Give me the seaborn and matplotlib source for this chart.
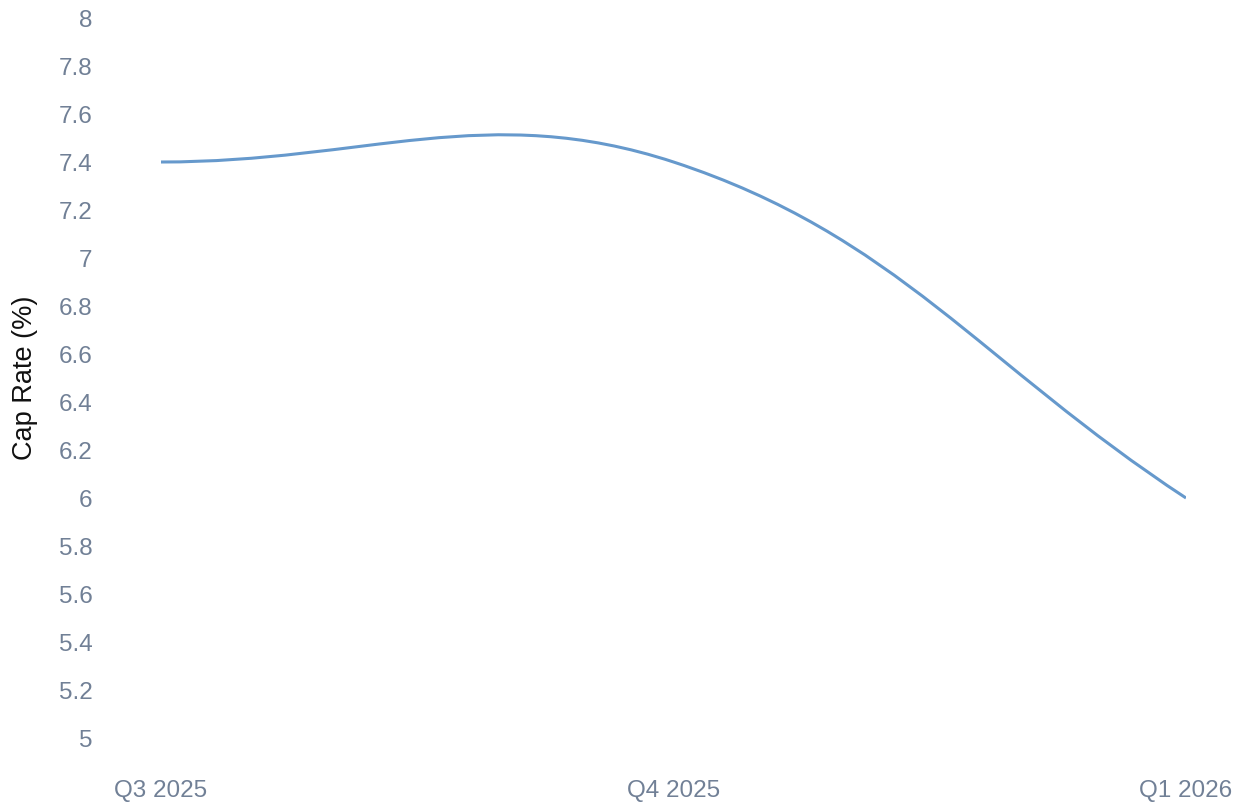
import numpy as np
import pandas as pd
import matplotlib
matplotlib.use("Agg")
import matplotlib.pyplot as plt
import seaborn as sns
from matplotlib.path import Path
from matplotlib.patches import PathPatch
from matplotlib.transforms import ScaledTranslation

# Data
quarters = ["Q3 2025", "Q4 2025", "Q1 2026"]
cap_rate = [7.4, 7.4, 6.0]
y_ticks = [5.0, 5.2, 5.4, 5.6, 5.8, 6.0, 6.2, 6.4, 6.6, 6.8, 7.0, 7.2, 7.4, 7.6, 7.8, 8.0]
y_label = "Cap Rate (%)"

LINE_COLOR = "#6699cc"
TICK_COLOR = "#718096"
TENSION = 0.4

sns.set_theme(style="white")
plt.rcParams["font.family"] = ["Liberation Sans", "DejaVu Sans"]

W, H = 1244, 806
fig = plt.figure(figsize=(W / 100, H / 100), dpi=100)
ax = fig.add_axes([161 / W, (H - 738) / H, (1186 - 161) / W, (738 - 18) / H])

df = pd.DataFrame({"pos": np.arange(len(quarters)), "quarter": quarters, "cap_rate": cap_rate})
# points are drawn with no visible marker; the smoothed line is added below
sns.lineplot(data=df, x="pos", y="cap_rate", ax=ax, linewidth=0, color=LINE_COLOR)

ax.set_xlim(0, len(quarters) - 1)
ax.set_ylim(5, 8)


def spline_path(xs, ys, tension):
    """Cardinal-style spline (control points computed in screen space)."""
    pts = ax.transData.transform(np.column_stack([xs, ys]))
    n = len(pts)
    cp_prev = np.zeros_like(pts)
    cp_next = np.zeros_like(pts)
    for i in range(n):
        prev = pts[i - 1] if i > 0 else pts[i]
        cur = pts[i]
        nxt = pts[i + 1] if i < n - 1 else pts[i]
        d01 = np.hypot(*(cur - prev))
        d12 = np.hypot(*(nxt - cur))
        tot = d01 + d12
        s01 = d01 / tot if tot else 0.0
        s12 = d12 / tot if tot else 0.0
        cp_prev[i] = cur - tension * s01 * (nxt - prev)
        cp_next[i] = cur + tension * s12 * (nxt - prev)
    verts = [pts[0]]
    codes = [Path.MOVETO]
    for i in range(n - 1):
        verts += [cp_next[i], cp_prev[i + 1], pts[i + 1]]
        codes += [Path.CURVE4] * 3
    verts = ax.transData.inverted().transform(np.array(verts))
    return Path(verts, codes)


path = spline_path(df["pos"].to_numpy(float), df["cap_rate"].to_numpy(float), TENSION)
ax.add_patch(PathPatch(path, facecolor="none", edgecolor=LINE_COLOR, linewidth=2.2,
                       capstyle="butt", joinstyle="round"))

ax.set_xticks(df["pos"])
ax.set_xticklabels(quarters)
ax.set_yticks(y_ticks)
ax.set_yticklabels([f"{v:g}" for v in y_ticks])
ax.tick_params(axis="y", length=0, pad=49.5, labelsize=17.5, labelcolor=TICK_COLOR)
ax.tick_params(axis="x", length=0, pad=30, labelsize=17.5, labelcolor=TICK_COLOR)

ax.set_xlabel("")
ax.set_ylabel(y_label, fontsize=19.5, color="#111111")
ax.yaxis.label.set_verticalalignment("center")
ax.yaxis.set_label_coords((25.5 - 161) / (1186 - 161), 0.5)

ax.grid(False)
for s in ax.spines.values():
    s.set_visible(False)

# nudge the y tick labels so the digits sit centred on their values
shift = ScaledTranslation(0, -3 / 100, fig.dpi_scale_trans)
for lbl in ax.get_yticklabels():
    lbl.set_verticalalignment("center")
    lbl.set_transform(lbl.get_transform() + shift)

fig.savefig("out.png", dpi=100, facecolor="white")
